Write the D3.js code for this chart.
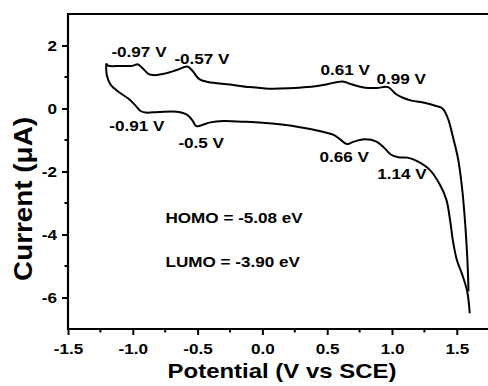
<!DOCTYPE html>
<html>
<head>
<meta charset="utf-8">
<script src="https://cdn.jsdelivr.net/npm/d3@7"></script>
<style>
  html, body { margin: 0; padding: 0; background: #fff; }
  svg { display: block; }
  text { font-family: "Liberation Sans", Arial, Helvetica, sans-serif; font-weight: bold; fill: #000; }
</style>
</head>
<body>
<div id="chart"></div>
<script>
// ---------- data ----------
const xTicks = [-1.5, -1.0, -0.5, 0.0, 0.5, 1.0, 1.5];
const xTickLabels = ["-1.5", "-1.0", "-0.5", "0.0", "0.5", "1.0", "1.5"];
const xMinorTicks = [-1.25, -0.75, -0.25, 0.25, 0.75, 1.25];
const yTicks = [-6, -4, -2, 0, 2];
const yTickLabels = ["-6", "-4", "-2", "0", "2"];
const yMinorTicks = [-5, -3, -1, 1];

// anodic (upper) branch: potential (V), current (µA)
const upperV = [-1.205, -1.19, -1.10, -1.00, -0.96, -0.93, -0.88, -0.84, -0.76, -0.66, -0.58, -0.54, -0.49, -0.42, -0.25, -0.10, 0.05, 0.20, 0.35, 0.50, 0.62, 0.68, 0.78, 0.88, 0.97, 1.03, 1.08, 1.15, 1.25, 1.34, 1.39, 1.43, 1.47, 1.51, 1.54, 1.56, 1.575, 1.585, 1.59];
const upperI = [1.43, 1.36, 1.35, 1.36, 1.40, 1.30, 1.10, 1.06, 1.10, 1.22, 1.33, 1.20, 0.94, 0.84, 0.76, 0.68, 0.63, 0.64, 0.68, 0.77, 0.86, 0.78, 0.67, 0.65, 0.68, 0.46, 0.35, 0.25, 0.18, 0.08, 0.00, -0.30, -0.90, -1.60, -2.50, -3.40, -4.30, -5.10, -5.80];

// cathodic (lower) branch
const lowerV = [-1.205, -1.20, -1.17, -1.10, -1.03, -0.98, -0.94, -0.90, -0.80, -0.66, -0.58, -0.54, -0.51, -0.47, -0.40, -0.30, -0.15, 0.00, 0.15, 0.30, 0.45, 0.55, 0.60, 0.65, 0.70, 0.79, 0.88, 0.94, 0.99, 1.05, 1.12, 1.19, 1.29, 1.37, 1.42, 1.45, 1.47, 1.50, 1.54, 1.58, 1.60];
const lowerI = [1.43, 1.05, 0.75, 0.50, 0.30, 0.10, -0.08, -0.13, -0.11, -0.10, -0.20, -0.38, -0.56, -0.53, -0.44, -0.40, -0.42, -0.45, -0.51, -0.60, -0.72, -0.84, -0.98, -1.13, -1.06, -0.98, -1.05, -1.25, -1.46, -1.55, -1.56, -1.66, -1.94, -2.42, -2.90, -3.60, -4.20, -4.80, -5.25, -5.80, -6.50];

// annotations: text, anchor potential, anchor current
const annText = ["-0.97 V", "-0.57 V", "-0.91 V", "-0.5 V", "0.61 V", "0.99 V", "0.66 V", "1.14 V", "HOMO = -5.08 eV", "LUMO = -3.90 eV"];
const annV = [-1.165, -0.679, -1.181, -0.648, 0.448, 0.880, 0.440, 0.887, -0.748, -0.748];
const annI = [1.65, 1.40, -0.73, -1.24, 1.05, 0.79, -1.71, -2.25, -3.62, -5.02];

// ---------- layout ----------
const W = 488, H = 386;
const FS = 15;
const STRETCH = 1.14;
const svg = d3.select("#chart").append("svg").attr("width", W).attr("height", H);

const x = d3.scaleLinear().domain([-1.5, 1.75]).range([68, 489.2]);
const y = d3.scaleLinear().domain([-7, 3]).range([329, 14]);

function stretch(sel, k) {
  sel.each(function () {
    const w = this.getComputedTextLength();
    this.setAttribute("textLength", w * k);
    this.setAttribute("lengthAdjust", "spacingAndGlyphs");
  });
}

// frame (top + right, right side falls just outside the view)
svg.append("path")
  .attr("d", `M${x(-1.5)},${y(3)}H${x(1.75) + 2}V${y(-7)}`)
  .attr("fill", "none").attr("stroke", "#000").attr("stroke-width", 2.2);

// x axis
const xAxis = svg.append("g").attr("transform", `translate(0,${y(-7)})`)
  .call(d3.axisBottom(x).tickValues(xTicks).tickSize(6).tickPadding(8)
    .tickFormat((d, i) => xTickLabels[i]));
xAxis.append("g").selectAll("line").data(xMinorTicks).join("line")
  .attr("x1", d => x(d)).attr("x2", d => x(d)).attr("y1", 0).attr("y2", 3.5)
  .attr("stroke", "#000").attr("stroke-width", 2);

// y axis
const yAxis = svg.append("g").attr("transform", `translate(${x(-1.5)},0)`)
  .call(d3.axisLeft(y).tickValues(yTicks).tickSize(6).tickPadding(5)
    .tickFormat((d, i) => yTickLabels[i]));
yAxis.append("g").selectAll("line").data(yMinorTicks).join("line")
  .attr("x1", 0).attr("x2", -3.5).attr("y1", d => y(d)).attr("y2", d => y(d))
  .attr("stroke", "#000").attr("stroke-width", 2);

[xAxis, yAxis].forEach(g => {
  g.select(".domain").remove();
  g.selectAll(".tick line").attr("stroke-width", 2);
  g.selectAll("text").style("font-size", FS + "px")
    .style("font-family", '"Liberation Sans", Arial, sans-serif').style("font-weight", "bold");
});
svg.append("line").attr("x1", x(-1.5) - 1).attr("x2", x(1.75) + 2).attr("y1", y(-7)).attr("y2", y(-7))
  .attr("stroke", "#000").attr("stroke-width", 2.2);
svg.append("line").attr("x1", x(-1.5)).attr("x2", x(-1.5)).attr("y1", y(3) - 1.1).attr("y2", y(-7) + 1.1)
  .attr("stroke", "#000").attr("stroke-width", 2.2);

stretch(xAxis.selectAll("text"), STRETCH);
stretch(yAxis.selectAll("text"), STRETCH);

// curves
const line = d3.line().x(d => x(d[0])).y(d => y(d[1])).curve(d3.curveCatmullRom.alpha(0.5));
const upper = upperV.map((v, i) => [v, upperI[i]]);
const lower = lowerV.map((v, i) => [v, lowerI[i]]);
[upper, lower].forEach(pts => {
  svg.append("path").datum(pts).attr("d", line)
    .attr("fill", "none").attr("stroke", "#000").attr("stroke-width", 2)
    .attr("stroke-linejoin", "round");
});

// annotations
const ann = svg.append("g").selectAll("text").data(annText).join("text")
  .attr("x", (d, i) => x(annV[i])).attr("y", (d, i) => y(annI[i]))
  .style("font-size", FS + "px").text(d => d);
stretch(ann, STRETCH);

// axis titles
const xt = svg.append("text").attr("x", 282).attr("y", 378).attr("text-anchor", "middle")
  .style("font-size", "21px").text("Potential (V vs SCE)");
stretch(xt, 1.14);

const yt = svg.append("text").attr("transform", `translate(32,199) rotate(-90)`).attr("text-anchor", "middle")
  .style("font-size", "25px").text("Current (\u03BCA)");
yt.attr("textLength", 164).attr("lengthAdjust", "spacingAndGlyphs");
</script>
</body>
</html>
